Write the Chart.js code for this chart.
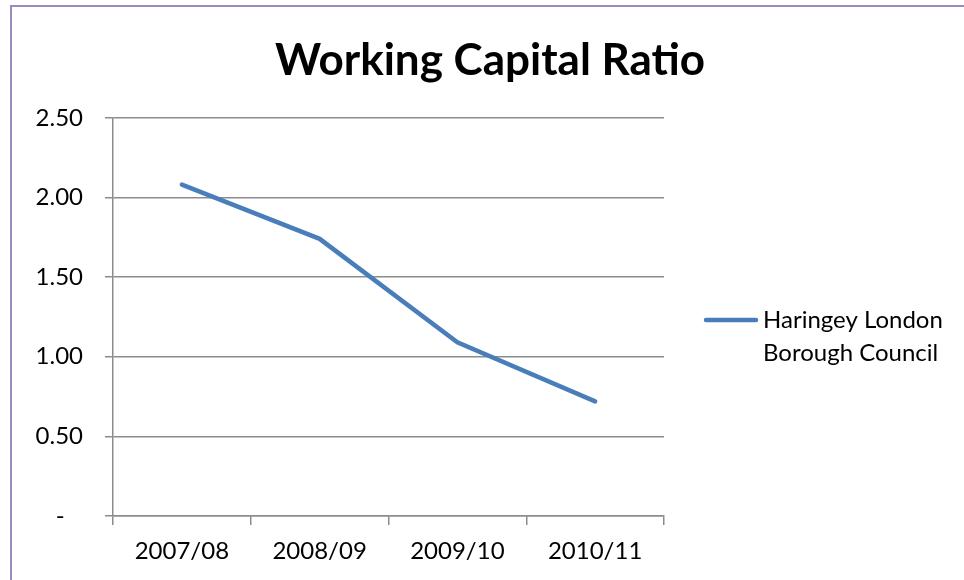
<!DOCTYPE html>
<html>
<head>
<meta charset="utf-8">
<title>Working Capital Ratio</title>
<script src="https://cdn.jsdelivr.net/npm/chart.js@4"></script>
<style>
  html, body { margin: 0; padding: 0; background: #fff; }
  #wrap { position: relative; width: 964px; height: 580px; overflow: hidden; }
  #frame {
    position: absolute; left: 10px; top: 5px; right: -10px; bottom: -10px;
    border-top: 2px solid #9c89c0; border-left: 2px solid #9c89c0;
  }
  #chart { position: absolute; left: 0; top: 0; }
</style>
</head>
<body>
<div id="wrap">
  <div id="frame"></div>
  <canvas id="chart" width="964" height="580"></canvas>
</div>
<script>
// Working capital ratio by financial year
const years = ['2007/08', '2008/09', '2009/10', '2010/11'];
const ratios = [2.08, 1.74, 1.09, 0.72];
const seriesName = ['Haringey London', 'Borough Council'];
const yTicks = [0, 0.5, 1, 1.5, 2, 2.5];

const FONT = 'Lato, "Open Sans", sans-serif';
const GRID = '#8c8c8c';
const LINE = '#4a7ebb';

// Centre the title across the whole frame, not just the plot column
const wideTitle = {
    id: 'wideTitle',
    afterLayout(chart) {
        const t = chart.titleBlock;
        if (!t) return;
        t.left = 16;
        t.right = chart.width;
        t.width = t.right - t.left;
    }
};

// Legend to the right of the plot, two-line label next to a line sample
const sideLegend = {
    id: 'sideLegend',
    afterDraw(chart) {
        const ctx = chart.ctx;
        const area = chart.chartArea;
        const x0 = area.right + 40;
        const y0 = 320;
        ctx.save();
        ctx.strokeStyle = LINE;
        ctx.lineWidth = 4.5;
        ctx.lineCap = 'round';
        ctx.beginPath();
        ctx.moveTo(x0 + 2, y0);
        ctx.lineTo(x0 + 52, y0);
        ctx.stroke();
        ctx.fillStyle = '#000';
        ctx.font = '24px ' + FONT;
        ctx.textBaseline = 'middle';
        ctx.textAlign = 'left';
        seriesName.forEach((line, i) => {
            ctx.fillText(line, x0 + 59, y0 + i * 33);
        });
        ctx.restore();
    }
};

new Chart(document.getElementById('chart'), {
    type: 'line',
    data: {
        labels: years,
        datasets: [{
            label: seriesName.join(' '),
            data: ratios,
            borderColor: LINE,
            borderWidth: 4.5,
            borderCapStyle: 'round',
            pointRadius: 0,
            tension: 0,
            fill: false
        }]
    },
    options: {
        responsive: false,
        animation: false,
        layout: { padding: { left: 0, right: 300, top: 0, bottom: 0 } },
        plugins: {
            legend: { display: false },
            tooltip: { enabled: false },
            title: {
                display: true,
                text: 'Working Capital Ratio',
                color: '#000',
                font: { family: FONT, size: 44, weight: 'bold' },
                padding: { top: 34, bottom: 31 }
            }
        },
        scales: {
            x: {
                offset: true,
                grid: {
                    offset: true,
                    drawOnChartArea: false,
                    color: GRID,
                    lineWidth: 1.5,
                    tickLength: 9
                },
                border: { color: GRID, width: 1.5 },
                ticks: {
                    color: '#000',
                    padding: 12,
                    maxRotation: 0,
                    font: { family: FONT, size: 24 }
                },
                afterFit(scale) { scale.height = 64; }
            },
            y: {
                min: 0,
                max: 2.5,
                afterBuildTicks(scale) {
                    scale.ticks = yTicks.map(v => ({ value: v }));
                },
                grid: { color: GRID, lineWidth: 1.5, tickLength: 8 },
                border: { color: GRID, width: 1.5 },
                ticks: {
                    color: '#000',
                    padding: 22,
                    font: { family: FONT, size: 24 },
                    callback: v => v === 0 ? '-   ' : v.toFixed(2)
                },
                afterFit(scale) { scale.width = 113; }
            }
        }
    },
    plugins: [wideTitle, sideLegend]
});
</script>
</body>
</html>
